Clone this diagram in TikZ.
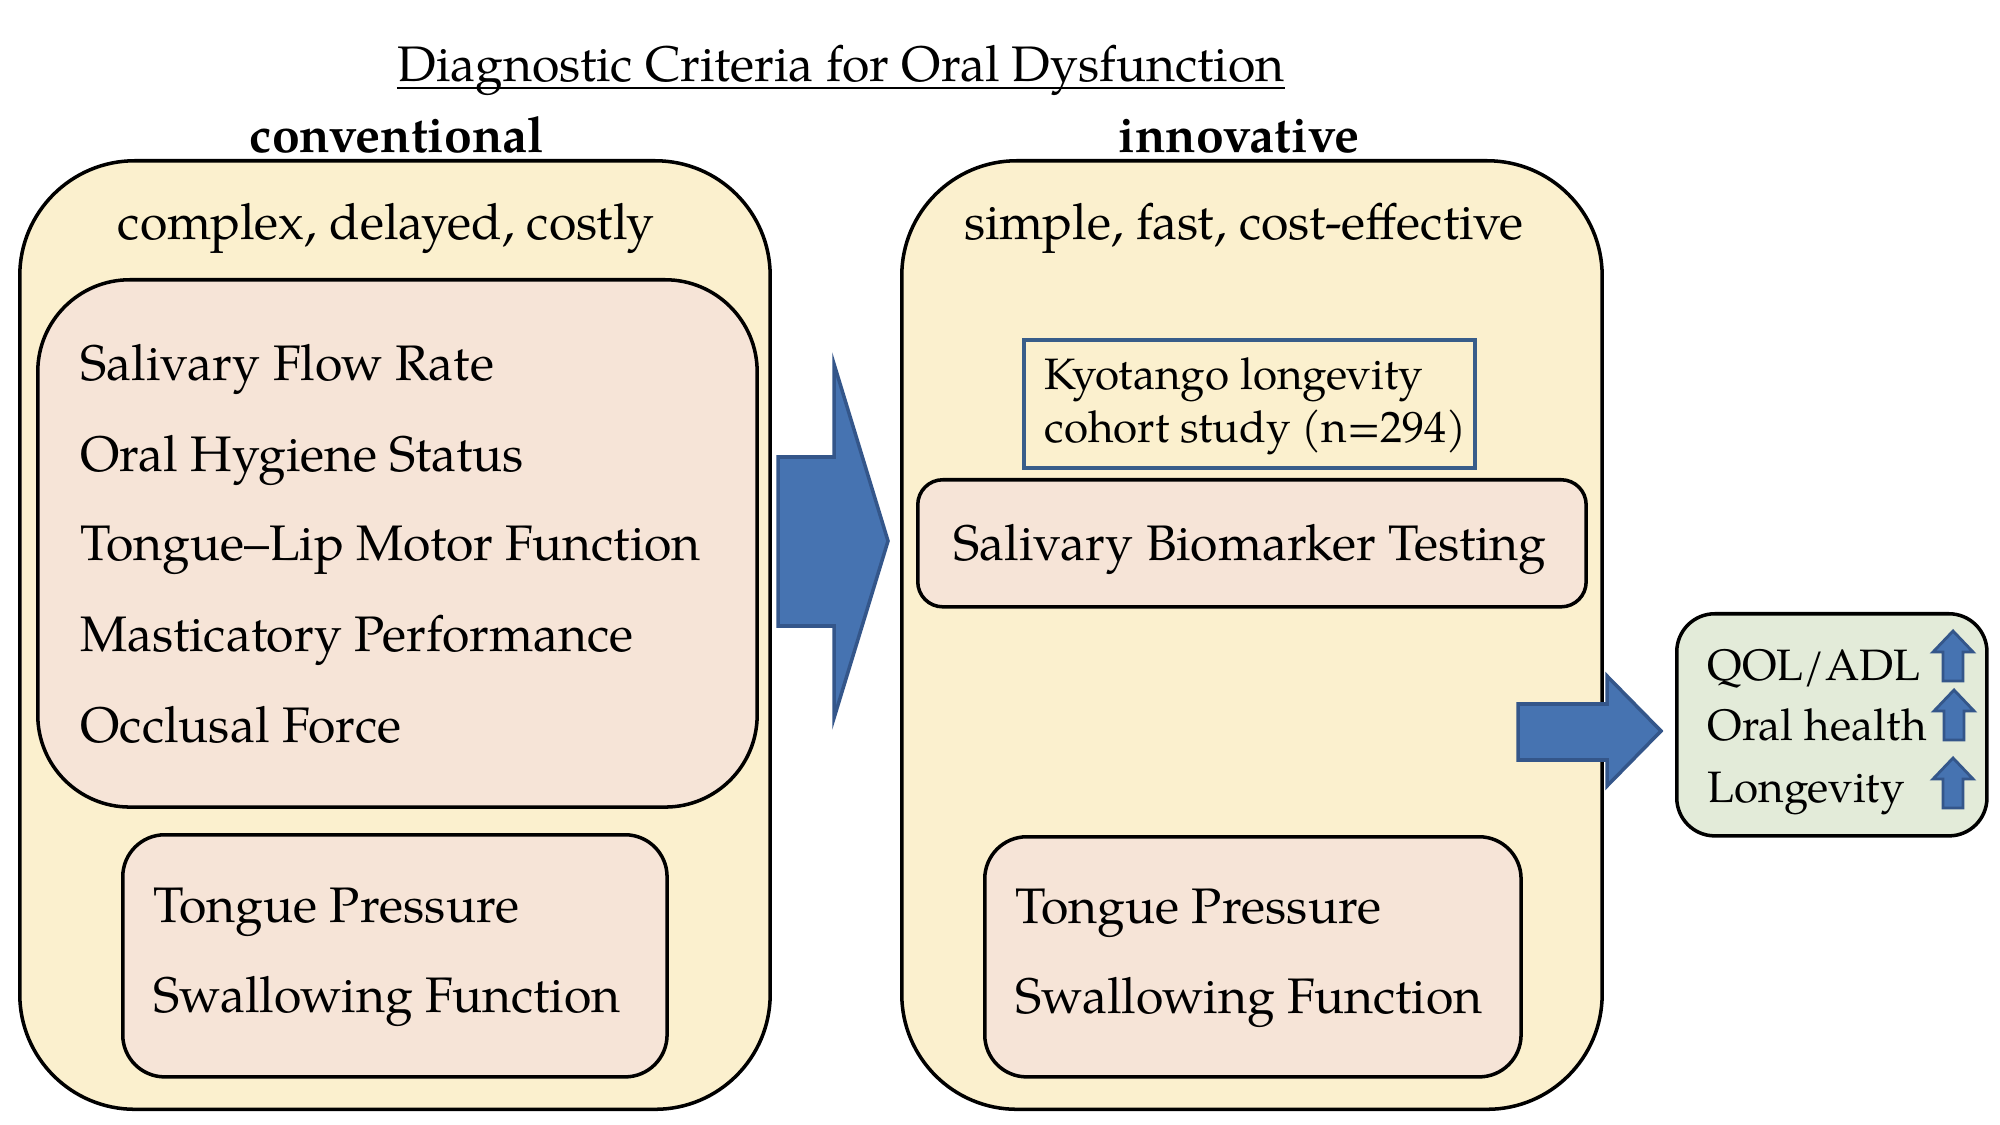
\documentclass[tikz,border=0pt]{standalone}
\usepackage{fontspec}
\setmainfont{TeX Gyre Pagella}
\usetikzlibrary{calc}
\definecolor{cream}{HTML}{FBF0CE}
\definecolor{peach}{HTML}{F6E4D7}
\definecolor{sage}{HTML}{E3EBD9}
\definecolor{arrowblue}{HTML}{4673B1}
\definecolor{arrowedge}{HTML}{34568A}
\definecolor{kyoedge}{HTML}{385D8A}
\begin{document}
\begin{tikzpicture}[x=0.01cm,y=-0.01cm,
  box/.style={draw=black, line width=1pt, inner sep=0pt, anchor=north west},
  bigbox/.style={box, fill=cream, rounded corners=1.15cm},
  itembox/.style={box, fill=peach},
  txt/.style={inner sep=0pt, font=\fontsize{14.2}{17}\selectfont},
  smalltxt/.style={inner sep=0pt, font=\fontsize{12.5}{15}\selectfont},
  arrowshape/.style={fill=arrowblue, draw=arrowedge, line width=1pt, line join=miter},
  uparrow/.style={fill=arrowblue, draw=arrowedge, line width=0.8pt, line join=miter}]
\useasboundingbox (0,0) rectangle (2000,1125);
\fill[white] (0,0) rectangle (2000,1125);

% title and headers
\node[txt, anchor=base] (title) at (841,82) {Diagnostic Criteria for Oral Dysfunction};
\draw[line width=0.8pt] ($(title.base west)+(0,6)$) -- ($(title.base east)+(0,6)$);
\node[txt, anchor=base, font=\fontsize{14.2}{17}\selectfont\bfseries] (conv) at (397,153) {conventional};
\node[txt, anchor=base, font=\fontsize{14.2}{17}\selectfont\bfseries] (innov) at (1239,153) {innovative};

% left column
\node[bigbox, minimum width=7.5cm, minimum height=9.48cm] (leftbox) at (18,159) {};
\node[txt, anchor=base] (cdc) at (386,240) {complex, delayed, costly};
\node[itembox, rounded corners=0.92cm, minimum width=7.19cm, minimum height=5.27cm] (leftitems) at (36,278) {};
\node[txt, anchor=base west] (l1) at (80,381) {Salivary Flow Rate};
\node[txt, anchor=base west] (l2) at (80,472) {Oral Hygiene Status};
\node[txt, anchor=base west] (l3) at (80,561) {Tongue–Lip Motor Function};
\node[txt, anchor=base west] (l4) at (80,652) {Masticatory Performance};
\node[txt, anchor=base west] (l5) at (80,742) {Occlusal Force};
\node[itembox, rounded corners=0.42cm, minimum width=5.44cm, minimum height=2.42cm] (leftlow) at (121,833) {};
\node[txt, anchor=base west] (l6) at (153,922) {Tongue Pressure};
\node[txt, anchor=base west] (l7) at (153,1012) {Swallowing Function};

% big arrow
\draw[arrowshape] (778,457) -- (834,457) -- (834,364) -- (888,541) -- (834,718) -- (834,626) -- (778,626) -- cycle;

% right column
\node[bigbox, minimum width=7.0cm, minimum height=9.48cm] (rightbox) at (900,159) {};
\node[txt, anchor=base] (sfc) at (1244,240) {simple, fast, cost-effective};
\node[box, draw=kyoedge, line width=1pt, minimum width=4.51cm, minimum height=1.28cm] (kyo) at (1022,338) {};
\node[smalltxt, anchor=base west] (k1) at (1044,390) {Kyotango longevity};
\node[smalltxt, anchor=base west] (k2) at (1044,443) {cohort study (n=294)};
\node[itembox, rounded corners=0.25cm, minimum width=6.68cm, minimum height=1.27cm] (sbt) at (916,478) {};
\node[txt, anchor=base] (sbtt) at (1250,561) {Salivary Biomarker Testing};
\node[itembox, rounded corners=0.42cm, minimum width=5.36cm, minimum height=2.40cm] (rightlow) at (983,835) {};
\node[txt, anchor=base west] (r6) at (1015,923) {Tongue Pressure};
\node[txt, anchor=base west] (r7) at (1015,1013) {Swallowing Function};

% small arrow
\draw[arrowshape] (1518,704) -- (1607,704) -- (1607,676) -- (1661,731) -- (1607,786) -- (1607,760) -- (1518,760) -- cycle;

% outcome box
\node[box, fill=sage, rounded corners=0.38cm, minimum width=3.10cm, minimum height=2.22cm] (outbox) at (1675,612) {};
\node[smalltxt, anchor=base west] (o1) at (1707,680) {QOL/ADL};
\node[smalltxt, anchor=base west] (o2) at (1707,740) {Oral health};
\node[smalltxt, anchor=base west] (o3) at (1707,802) {Longevity};
\foreach \cx/\ty in {1953/631, 1954/690, 1953/758}{
  \draw[uparrow] (\cx-10,\ty+50) -- (\cx-10,\ty+21) -- (\cx-20,\ty+21) -- (\cx,\ty) -- (\cx+20,\ty+21) -- (\cx+10,\ty+21) -- (\cx+10,\ty+50) -- cycle;
}
\end{tikzpicture}
\end{document}
